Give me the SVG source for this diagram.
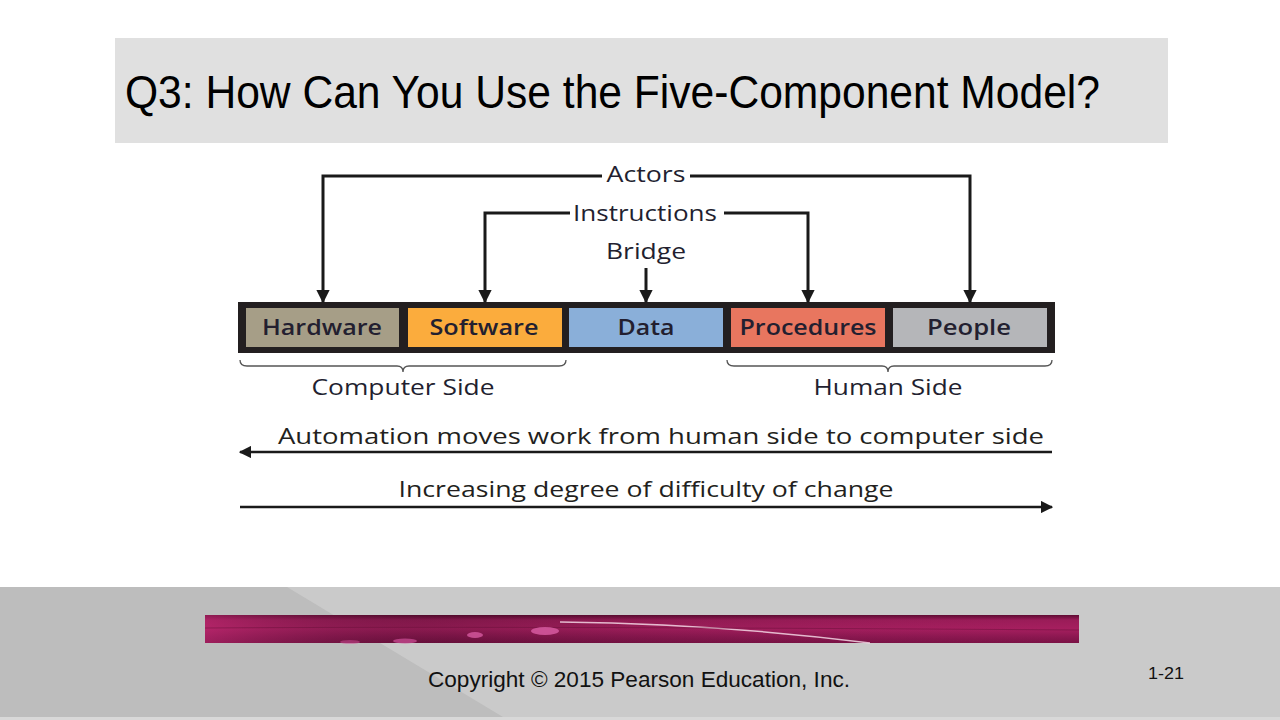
<svg xmlns="http://www.w3.org/2000/svg" width="1280" height="720" viewBox="0 0 1280 720">
<defs>
<style>
.lbl{font-family:"Open Sans","DejaVu Sans",sans-serif;fill:#231f30;}
.box{font-size:21px;font-weight:600;text-anchor:middle;}
.top{font-size:21px;font-weight:500;text-anchor:middle;}
.side{font-size:21px;font-weight:500;text-anchor:middle;}
.cond{font-family:"Open Sans","DejaVu Sans",sans-serif;font-size:22px;fill:#231f20;}
.con{fill:none;stroke:#1a1a1a;stroke-width:3;}
.brace{fill:none;stroke:#555;stroke-width:1.3;}
</style>
<marker id="ah" viewBox="0 0 10 10" refX="9" refY="5" markerWidth="4.4" markerHeight="4.4" orient="auto" markerUnits="strokeWidth">
<path d="M0,0 L10,5 L0,10 z" fill="#1a1a1a"/>
</marker>
<marker id="ah2" viewBox="0 0 10 10" refX="9" refY="5" markerWidth="5" markerHeight="5" orient="auto" markerUnits="strokeWidth">
<path d="M0,0 L10,5 L0,10 z" fill="#1a1a1a"/>
</marker>
<linearGradient id="mag" x1="0" y1="0" x2="0" y2="1">
<stop offset="0" stop-color="#5e0b32"/>
<stop offset="0.18" stop-color="#9a1c58"/>
<stop offset="0.5" stop-color="#a61f5f"/>
<stop offset="0.75" stop-color="#8e1852"/>
<stop offset="1" stop-color="#7a1245"/>
</linearGradient>
<linearGradient id="magl" x1="0" y1="0" x2="1" y2="0">
<stop offset="0" stop-color="#c02a72" stop-opacity="0.5"/>
<stop offset="0.3" stop-color="#000" stop-opacity="0.15"/>
<stop offset="1" stop-color="#a61f5f" stop-opacity="0"/>
</linearGradient>
</defs>
<rect x="0" y="0" width="1280" height="720" fill="#ffffff"/>
<g id="title">
<rect x="115" y="38" width="1053" height="105" fill="#e0e0e0"/>
<text x="125" y="108" font-family="Liberation Sans, Arial, sans-serif" font-size="47" fill="#000" textLength="975" lengthAdjust="spacingAndGlyphs">Q3: How Can You Use the Five-Component Model?</text>
</g>
<g id="footer">
<rect x="0" y="587" width="1280" height="133" fill="#cacaca"/>
<polygon points="0,587 287,587 508,720 0,720" fill="#bdbdbd"/>
<rect x="0" y="717" width="1280" height="3" fill="#d8d8d8"/>
<rect x="205" y="615" width="874" height="28" fill="url(#mag)"/>
<rect x="205" y="615" width="874" height="28" fill="url(#magl)"/>
<path d="M560,622 Q720,624 870,643" fill="none" stroke="#f3d6e4" stroke-width="1.5" opacity="0.85"/>
<path d="M205,628 Q500,626 1079,630" fill="none" stroke="#6a0f3a" stroke-width="1" opacity="0.5"/>
<ellipse cx="545" cy="631" rx="14" ry="4" fill="#d65aa0" opacity="0.85"/>
<ellipse cx="475" cy="635" rx="8" ry="3" fill="#d65aa0" opacity="0.8"/>
<ellipse cx="405" cy="641" rx="12" ry="2.5" fill="#cf5098" opacity="0.7"/>
<ellipse cx="350" cy="642" rx="10" ry="2" fill="#cf5098" opacity="0.5"/>
<text x="639" y="687" font-family="Liberation Sans Narrow, Liberation Sans, Arial, sans-serif" font-size="22" fill="#111" text-anchor="middle" textLength="422" lengthAdjust="spacingAndGlyphs">Copyright © 2015 Pearson Education, Inc.</text>
<text x="1166" y="679" font-family="Liberation Sans, Arial, sans-serif" font-size="17" fill="#111" text-anchor="middle" textLength="36" lengthAdjust="spacingAndGlyphs">1-21</text>
</g>
<g id="bar">
<rect x="238" y="302" width="817" height="51" fill="#231f20"/>
</g>
<g id="hardware">
<rect x="246" y="308" width="153" height="39" fill="#a69e87"/>
<text class="lbl box" x="322" y="335" textLength="120" lengthAdjust="spacingAndGlyphs">Hardware</text>
</g>
<g id="software">
<rect x="408" y="308" width="154" height="39" fill="#fbac3d"/>
<text class="lbl box" x="484" y="335" textLength="109" lengthAdjust="spacingAndGlyphs">Software</text>
</g>
<g id="data">
<rect x="569" y="308" width="154" height="39" fill="#8aafd9"/>
<text class="lbl box" x="646" y="335" textLength="57" lengthAdjust="spacingAndGlyphs">Data</text>
</g>
<g id="procedures">
<rect x="731" y="308" width="154" height="39" fill="#e8765f"/>
<text class="lbl box" x="808" y="335" textLength="137" lengthAdjust="spacingAndGlyphs">Procedures</text>
</g>
<g id="people">
<rect x="893" y="308" width="154" height="39" fill="#b5b6b9"/>
<text class="lbl box" x="969" y="335" textLength="84" lengthAdjust="spacingAndGlyphs">People</text>
</g>
<g id="labels">
<text class="lbl top" x="646" y="182" textLength="79" lengthAdjust="spacingAndGlyphs">Actors</text>
<text class="lbl top" x="645" y="221" textLength="144" lengthAdjust="spacingAndGlyphs">Instructions</text>
<text class="lbl top" x="646" y="259" textLength="80" lengthAdjust="spacingAndGlyphs">Bridge</text>
<text class="lbl side" x="403" y="395" textLength="183" lengthAdjust="spacingAndGlyphs">Computer Side</text>
<text class="lbl side" x="888" y="395" textLength="149" lengthAdjust="spacingAndGlyphs">Human Side</text>
<text class="cond" x="661" y="444" text-anchor="middle" textLength="766" lengthAdjust="spacingAndGlyphs">Automation moves work from human side to computer side</text>
<text class="cond" x="646" y="497" text-anchor="middle" textLength="495" lengthAdjust="spacingAndGlyphs">Increasing degree of difficulty of change</text>
</g>
<g id="connectors">
<path class="con" d="M602,176 H323 V302" marker-end="url(#ah)"/>
<path class="con" d="M690,176 H970 V302" marker-end="url(#ah)"/>
<path class="con" d="M570,213 H485 V302" marker-end="url(#ah)"/>
<path class="con" d="M724,213 H808 V302" marker-end="url(#ah)"/>
<path class="con" d="M646,268 V302" marker-end="url(#ah)"/>
<path class="con" d="M1052,452 H240" marker-end="url(#ah2)" style="stroke-width:2.5"/>
<path class="con" d="M240,507 H1052" marker-end="url(#ah2)" style="stroke-width:2.5"/>
<path class="brace" d="M240,360 Q240,366 247,366 L397,366 Q403,366 403,372 Q403,366 409,366 L559,366 Q566,366 566,360"/>
<path class="brace" d="M727,360 Q727,366 734,366 L882,366 Q888,366 888,372 Q888,366 894,366 L1045,366 Q1052,366 1052,360"/>
</g>
</svg>
